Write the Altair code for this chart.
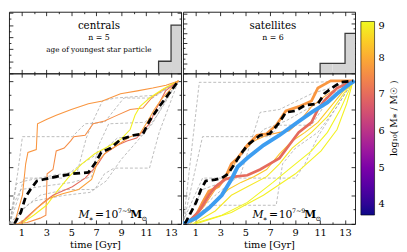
import altair as alt
import pandas as pd

SERIF = "DejaVu Serif"

# ---------------- values ----------------
TIME_DOMAIN = [0, 13.8]
FRAC_DOMAIN = [0, 1.053]
X_TICKS = [1, 2, 3, 4, 5, 6, 7, 8, 9, 10, 11, 12, 13]
X_LABELS = [1, 3, 5, 7, 9, 11, 13]
FRAC_TICKS = [0, 0.1, 0.2, 0.3, 0.4, 0.5, 0.6, 0.7, 0.8, 0.9, 1.0]
CBAR_TICKS = [4, 5, 6, 7, 8, 9]
LOGM_DOMAIN = [3.7, 9.0]

# age of youngest star particle: bin edges [Gyr] and counts
CEN_BIN_EDGES = [12, 13, 14]
CEN_COUNTS = [1, 4]
CEN_HIST_MAX = 5.1
CEN_HIST_TICKS = [0, 0.5, 1, 1.5, 2, 2.5, 3, 3.5, 4, 4.5, 5]
SAT_BIN_EDGES = [11, 12, 13, 14]
SAT_COUNTS = [1, 1, 4]
SAT_HIST_MAX = 6.15
SAT_HIST_TICKS = [0, 0.5, 1, 1.5, 2, 2.5, 3, 3.5, 4, 4.5, 5, 5.5, 6]
CEN_N = 5
SAT_N = 6

# cumulative star-formation histories: (time [Gyr], cumulative fraction)
# centrals, coloured by log10 M*
CEN_C1_LOGM = 7.7
CEN_C1 = [(0.43, 0), (1.08, 0.20), (1.34, 0.42), (1.52, 0.50), (2.19, 0.52), (2.29, 0.70),
          (3.0, 0.73), (3.79, 0.76), (5.0, 0.80), (6.37, 0.84), (7.5, 0.86), (8.95, 0.91),
          (10.3, 0.93), (11.53, 0.95), (12.6, 0.97), (13.59, 1.0)]
CEN_C2_LOGM = 7.55
CEN_C2 = [(0.56, 0), (1.46, 0.01), (2.5, 0.04), (2.96, 0.06), (3.06, 0.35), (3.53, 0.38),
          (3.79, 0.51), (4.43, 0.53), (4.95, 0.58), (5.2, 0.61), (6.11, 0.62), (6.75, 0.70),
          (7.66, 0.72), (8.43, 0.75), (9.72, 0.80), (10.75, 0.81), (11.53, 0.89),
          (12.56, 0.95), (13.59, 1.0)]
CEN_C3_LOGM = 8.9
CEN_C3 = [(0.95, 0), (1.98, 0.06), (3.01, 0.13), (3.79, 0.22), (4.82, 0.33), (5.85, 0.42),
          (6.88, 0.49), (7.92, 0.54), (8.95, 0.59), (9.72, 0.66), (10.11, 0.76), (10.5, 0.82),
          (11.27, 0.88), (12.3, 0.94), (13.59, 1.0)]
CEN_C4_LOGM = 7.0
CEN_C4 = [(0.95, 0), (1.34, 0.04), (1.98, 0.09), (2.75, 0.15), (3.53, 0.20), (4.3, 0.23),
          (5.08, 0.26), (6.11, 0.32), (6.75, 0.38), (7.14, 0.42), (7.66, 0.49), (8.69, 0.55),
          (9.46, 0.58), (10.24, 0.60), (10.75, 0.65), (11.27, 0.70), (11.79, 0.80),
          (12.56, 0.93), (13.59, 1.0)]
CEN_C5_LOGM = 7.85
CEN_C5 = [(0.69, 0), (1.46, 0.04), (2.24, 0.11), (3.27, 0.18), (4.3, 0.21), (5.59, 0.24),
          (6.63, 0.31), (7.14, 0.44), (7.92, 0.51), (8.69, 0.55), (9.72, 0.61), (10.5, 0.63),
          (11.14, 0.72), (11.66, 0.80), (12.3, 0.88), (13.59, 1.0)]
CEN_MEDIAN = [(0.43, 0), (0.95, 0.08), (1.34, 0.19), (1.72, 0.24), (2.24, 0.30), (2.75, 0.31),
              (3.79, 0.33), (5.08, 0.35), (6.37, 0.36), (6.88, 0.42), (7.4, 0.50), (8.17, 0.53),
              (8.95, 0.59), (9.98, 0.62), (10.75, 0.63), (11.27, 0.72), (12.05, 0.82),
              (12.82, 0.91), (13.59, 1.0)]
# centrals, grey comparison tracks
CEN_G1 = [(0.05, 0), (0.69, 0.35), (1.08, 0.61), (5.08, 0.61), (6.11, 0.70), (7.66, 0.71),
          (9.21, 0.88), (11.53, 0.88), (13.59, 1.0)]
CEN_G2 = [(0.05, 0), (0.82, 0.20), (1.21, 0.32), (4.3, 0.32), (5.85, 0.42), (7.66, 0.52),
          (8.69, 0.60), (10.75, 0.62), (12.05, 0.78), (13.59, 1.0)]
CEN_G3 = [(0.17, 0), (1.46, 0.13), (2.5, 0.20), (4.56, 0.24), (6.88, 0.24), (7.66, 0.35),
          (8.43, 0.39), (11.27, 0.39), (12.05, 0.64), (12.82, 0.82), (13.59, 1.0)]
CEN_G4 = [(0.05, 0), (0.43, 0.15), (0.95, 0.24), (2.5, 0.26), (5.08, 0.29), (6.63, 0.33),
          (7.2, 0.55), (8.0, 0.70), (10.9, 0.71), (12.0, 0.80), (13.59, 1.0)]
CEN_G5 = [(0.1, 0), (0.6, 0.28), (1.3, 0.30), (3.0, 0.33), (5.5, 0.37), (6.2, 0.60),
          (6.8, 0.73), (7.5, 0.86), (8.5, 0.88), (11.8, 0.90), (13.59, 1.0)]
CEN_G6 = [(0.1, 0), (1.0, 0.10), (2.0, 0.16), (4.5, 0.20), (6.5, 0.22), (7.8, 0.30),
          (9.0, 0.45), (10.0, 0.55), (11.5, 0.70), (12.8, 0.90), (13.59, 1.0)]

# satellites, coloured by log10 M*
SAT_C1_LOGM = 7.7
SAT_C1 = [(0.28, 0), (1.05, 0.06), (1.57, 0.15), (2.08, 0.23), (2.85, 0.26), (3.37, 0.32),
          (3.88, 0.42), (4.39, 0.46), (5.16, 0.55), (5.94, 0.62), (6.71, 0.63), (7.48, 0.69),
          (8.25, 0.79), (9.28, 0.82), (10.31, 0.86), (10.82, 0.95), (11.85, 1.0), (13.65, 1.0)]
SAT_C2_LOGM = 7.0
SAT_C2 = [(0.28, 0), (1.31, 0.09), (2.08, 0.20), (2.59, 0.26), (3.37, 0.31), (4.14, 0.33),
          (5.16, 0.34), (6.19, 0.38), (6.96, 0.42), (7.74, 0.46), (8.51, 0.55), (9.28, 0.64),
          (10.31, 0.71), (10.82, 0.80), (11.33, 0.86), (12.36, 0.95), (13.65, 1.0)]
SAT_C3_LOGM = 7.9
SAT_C3 = [(0.28, 0), (1.57, 0.11), (2.59, 0.24), (3.62, 0.35), (4.65, 0.49), (5.68, 0.58),
          (6.71, 0.62), (7.74, 0.64), (8.51, 0.65), (9.28, 0.71), (10.31, 0.82),
          (11.33, 0.89), (12.36, 0.95), (13.65, 1.0)]
SAT_C4_LOGM = 8.8
SAT_C4 = [(0.79, 0), (2.59, 0.09), (3.88, 0.20), (5.16, 0.26), (6.71, 0.33), (7.74, 0.42),
          (8.76, 0.53), (10.31, 0.64), (11.59, 0.75), (12.88, 0.91), (13.65, 1.0)]
SAT_C5_LOGM = 8.95
SAT_C5 = [(0.79, 0), (3.11, 0.06), (5.16, 0.15), (7.22, 0.29), (8.76, 0.40), (10.31, 0.51),
          (11.59, 0.64), (12.62, 0.80), (13.65, 1.0)]
SAT_C6_LOGM = 8.4
SAT_C6 = [(0.54, 0), (2.08, 0.11), (3.62, 0.24), (4.65, 0.29), (5.68, 0.33), (6.71, 0.38),
          (7.74, 0.49), (8.76, 0.58), (9.79, 0.64), (10.82, 0.71), (11.85, 0.82),
          (12.88, 0.93), (13.65, 1.0)]
SAT_C7_LOGM = 8.9
SAT_C7 = [(1.05, 0), (3.88, 0.08), (6.45, 0.20), (9.02, 0.35), (11.08, 0.51), (12.36, 0.66),
          (13.13, 0.84), (13.65, 1.0)]
SAT_BLUE = [(0.02, 0), (1.05, 0.04), (2.08, 0.11), (3.11, 0.20), (3.88, 0.31), (4.39, 0.40),
            (5.16, 0.46), (6.45, 0.55), (7.74, 0.62), (9.02, 0.70), (10.31, 0.78),
            (11.59, 0.85), (12.36, 0.91), (13.39, 0.98), (13.78, 1.0)]
SAT_MEDIAN = [(0.15, 0), (1.05, 0.15), (1.44, 0.24), (1.82, 0.30), (2.59, 0.31), (3.11, 0.32),
              (3.62, 0.35), (4.14, 0.42), (4.65, 0.49), (5.16, 0.55), (6.19, 0.62),
              (6.96, 0.63), (7.74, 0.71), (8.25, 0.78), (9.02, 0.79), (9.79, 0.83),
              (10.82, 0.84), (11.33, 0.91), (12.11, 0.96), (12.62, 0.99), (13.65, 1.0)]
SAT_G1 = [(0.02, 0), (1.31, 0.99), (10.31, 0.99), (13.65, 1.0)]
SAT_G2 = [(0.02, 0.02), (1.57, 0.32), (9.02, 0.32), (9.79, 0.42), (10.82, 0.61), (13.65, 1.0)]
SAT_G3 = [(0.02, 0), (1.57, 0.61), (6.96, 0.61), (7.74, 0.69), (10.31, 0.69), (11.59, 0.86),
          (13.65, 1.0)]
SAT_G4 = [(0.28, 0), (2.08, 0.13), (7.48, 0.13), (7.99, 0.42), (9.02, 0.53), (10.82, 0.64),
          (12.36, 0.82), (13.65, 1.0)]
SAT_G5 = [(0.15, 0), (1.57, 0.24), (3.11, 0.29), (5.16, 0.53), (6.45, 0.66), (8.25, 0.72),
          (10.31, 0.82), (11.59, 0.89), (13.65, 1.0)]
SAT_G6 = [(0.28, 0), (2.59, 0.20), (4.65, 0.35), (6.19, 0.78), (7.74, 0.80), (10.31, 0.91),
          (13.65, 1.0)]

# ---------------- tables ----------------
def tracks(named):
    rows = []
    for name, logm, pts in named:
        for k, (t, v) in enumerate(pts):
            rows.append({"id": name, "logm": logm, "k": k, "t": t, "v": v})
    return pd.DataFrame(rows)


def hist_steps(edges, counts):
    ts = [edges[0]] + list(edges[:-1]) + [edges[-1]]
    cs = [0] + list(counts) + [counts[-1]]
    return pd.DataFrame({"k": list(range(len(ts))), "t": ts, "c": cs})


cen_col = tracks([("c1", CEN_C1_LOGM, CEN_C1), ("c2", CEN_C2_LOGM, CEN_C2),
                  ("c3", CEN_C3_LOGM, CEN_C3), ("c4", CEN_C4_LOGM, CEN_C4),
                  ("c5", CEN_C5_LOGM, CEN_C5)])
cen_gray = tracks([("g1", 0, CEN_G1), ("g2", 0, CEN_G2), ("g3", 0, CEN_G3),
                   ("g4", 0, CEN_G4), ("g5", 0, CEN_G5), ("g6", 0, CEN_G6)])
cen_med = tracks([("m", 0, CEN_MEDIAN)])
sat_thin = tracks([("s3", SAT_C3_LOGM, SAT_C3), ("s4", SAT_C4_LOGM, SAT_C4),
                   ("s5", SAT_C5_LOGM, SAT_C5), ("s6", SAT_C6_LOGM, SAT_C6),
                   ("s7", SAT_C7_LOGM, SAT_C7)])
sat_thick = tracks([("s1", SAT_C1_LOGM, SAT_C1), ("s2", SAT_C2_LOGM, SAT_C2)])
sat_gray = tracks([("g1", 0, SAT_G1), ("g2", 0, SAT_G2), ("g3", 0, SAT_G3),
                   ("g4", 0, SAT_G4), ("g5", 0, SAT_G5), ("g6", 0, SAT_G6)])
sat_blue = tracks([("b", 0, SAT_BLUE)])
sat_med = tracks([("m", 0, SAT_MEDIAN)])
cen_hist = hist_steps(CEN_BIN_EDGES, CEN_COUNTS)
sat_hist = hist_steps(SAT_BIN_EDGES, SAT_COUNTS)
ONE = pd.DataFrame({"a": [0]})

# ---------------- layout / style ----------------
W = 176
H_TOP = 63
H_BOT = 154

XS = alt.Scale(domain=TIME_DOMAIN, nice=False, zero=False)
YS = alt.Scale(domain=FRAC_DOMAIN, nice=False, zero=False)

TK = dict(labels=False, domain=False, grid=False, title=None, tickColor="black", tickWidth=0.8)
X_TS = {"condition": {"test": "datum.value % 2 == 1", "value": 4}, "value": 2}
FRAC_TS = {"condition": {"test": "round(datum.value * 10) % 2 == 0", "value": 4}, "value": 2}
HIST_TS = {"condition": {"test": "datum.value % 1 == 0", "value": 4}, "value": 2}

COLOR = alt.Color(
    "logm:Q",
    scale=alt.Scale(scheme="plasma", domain=LOGM_DOMAIN),
    legend=alt.Legend(orient="none", legendX=360, legendY=10, direction="vertical",
                      gradientLength=198, gradientThickness=14, values=CBAR_TICKS,
                      title=None, labelFont=SERIF, labelFontSize=10, labelColor="black",
                      gradientStrokeColor="black", gradientStrokeWidth=0.6,
                      labelOverlap=False, labelOffset=4),
)


def ghost(df):
    return alt.Chart(df).mark_point(opacity=0, size=0, strokeWidth=0, clip=True)


def frame_ticks(df, yf, ys, yvals, yts, h):
    a = ghost(df).encode(
        x=alt.X("t:Q", scale=XS, axis=alt.Axis(orient="top", offset=-h, values=X_TICKS,
                                                tickSize=X_TS, **TK)),
        y=alt.Y(yf, scale=ys, axis=alt.Axis(orient="right", offset=-W, values=yvals,
                                            tickSize=yts, **TK)),
    )
    b = ghost(df).encode(
        x=alt.X("t:Q", scale=XS, axis=alt.Axis(orient="bottom", offset=-h, values=X_TICKS,
                                                tickSize=X_TS, **TK)),
        y=alt.Y(yf, scale=ys, axis=alt.Axis(orient="left", offset=-W, values=yvals,
                                            tickSize=yts, **TK)),
    )
    return [a, b]


def text(s, x, y, size, **kw):
    return alt.Chart(ONE).mark_text(text=s, font=SERIF, fontSize=size, color="black", **kw).encode(
        x=alt.value(x), y=alt.value(y))


def hist_panel(df, hmax, hticks, texts):
    ys = alt.Scale(domain=[0, hmax], nice=False, zero=True)
    area = alt.Chart(df).mark_area(interpolate="step-after", color="#d4d4d4", clip=True).encode(
        x=alt.X("t:Q", scale=XS, axis=None), y=alt.Y("c:Q", scale=ys, axis=None),
        order=alt.Order("k:Q"))
    line = alt.Chart(df).mark_line(interpolate="step-after", color="#3a3a3a", strokeWidth=1.3,
                                   clip=True).encode(
        x=alt.X("t:Q", scale=XS, axis=None), y=alt.Y("c:Q", scale=ys, axis=None),
        order=alt.Order("k:Q"))
    layers = [area, line] + texts + frame_ticks(df, "c:Q", ys, hticks, HIST_TS, H_TOP)
    return alt.layer(*layers).resolve_scale(x="independent", y="independent").properties(
        width=W, height=H_TOP)


def enc(ch, color=None):
    e = dict(x=alt.X("t:Q", scale=XS, axis=None), y=alt.Y("v:Q", scale=YS, axis=None),
             detail="id:N", order=alt.Order("k:Q"))
    if color is not None:
        e["color"] = color
    return ch.encode(**e)


def mstar_label():
    yb = 148
    return [
        text("M", 71, yb, 11, fontStyle="italic", align="left", baseline="alphabetic"),
        text("∗", 81.5, yb + 3, 7, align="left", baseline="alphabetic"),
        text("=", 88, yb, 11, align="left", baseline="alphabetic"),
        text("10", 98, yb, 11, align="left", baseline="alphabetic"),
        text("7∼9", 111.5, yb - 5, 6.5, align="left", baseline="alphabetic"),
        text("M", 124, yb, 11, fontWeight="bold", align="left", baseline="alphabetic"),
        text("⊙", 135.5, yb + 3, 7, align="left", baseline="alphabetic"),
    ]


def sfh_panel(gray, colored_thin, colored_thick, blue, med, extra):
    layers = [enc(alt.Chart(gray).mark_line(color="#a0a0a0", strokeWidth=0.7,
                                            strokeDash=[3, 2], clip=True))]
    layers.append(enc(alt.Chart(colored_thin).mark_line(strokeWidth=1.1, clip=True), COLOR))
    if colored_thick is not None:
        layers.append(enc(alt.Chart(colored_thick).mark_line(strokeWidth=2.8, clip=True), COLOR))
    if blue is not None:
        layers.append(enc(alt.Chart(blue).mark_line(color="#3d9df0", strokeWidth=4, clip=True)))
    layers.append(enc(alt.Chart(med).mark_line(color="black", strokeWidth=2.8,
                                               strokeDash=[7, 4], clip=True)))
    layers += mstar_label() + extra
    labels = ghost(med).encode(
        x=alt.X("t:Q", scale=XS, axis=alt.Axis(orient="bottom", values=X_LABELS, ticks=False,
                                                domain=False, grid=False, title="time [Gyr]",
                                                labelPadding=4, titlePadding=2,
                                                labelFont=SERIF, titleFont=SERIF,
                                                labelFontSize=10, titleFontSize=10,
                                                titleFontWeight="normal",
                                                labelColor="black", titleColor="black")),
        y=alt.Y("v:Q", scale=YS, axis=None))
    layers += [labels] + frame_ticks(med, "v:Q", YS, FRAC_TICKS, FRAC_TS, H_BOT)
    return alt.layer(*layers).resolve_scale(x="independent", y="independent").properties(
        width=W, height=H_BOT)


top_left = hist_panel(cen_hist, CEN_HIST_MAX, CEN_HIST_TICKS, [
    text("centrals", 92, 14.5, 10.5, align="center", baseline="middle"),
    text(f"n = {CEN_N}", 92, 26.5, 8, align="center", baseline="middle"),
    text("age of youngest star particle", 92, 39.5, 7.4, align="center", baseline="middle"),
])
top_right = hist_panel(sat_hist, SAT_HIST_MAX, SAT_HIST_TICKS, [
    text("satellites", 92, 14.5, 10.5, align="center", baseline="middle"),
    text(f"n = {SAT_N}", 92, 26.5, 8, align="center", baseline="middle"),
])
bot_left = sfh_panel(cen_gray, cen_col, None, None, cen_med, [])
bot_right = sfh_panel(sat_gray, sat_thin, sat_thick, sat_blue, sat_med, [
    text("log₁₀( M⁎ / M☉ )", 216, 46, 9.5, angle=270, align="center", baseline="middle"),
])

chart = alt.hconcat(
    alt.vconcat(top_left, bot_left, spacing=0, bounds="flush"),
    alt.vconcat(top_right, bot_right, spacing=0, bounds="flush"),
    spacing=0,
).properties(padding=0).configure_view(stroke="#222222", strokeWidth=1)

chart.save("out.html", embed_options={"renderer": "svg", "actions": False})
